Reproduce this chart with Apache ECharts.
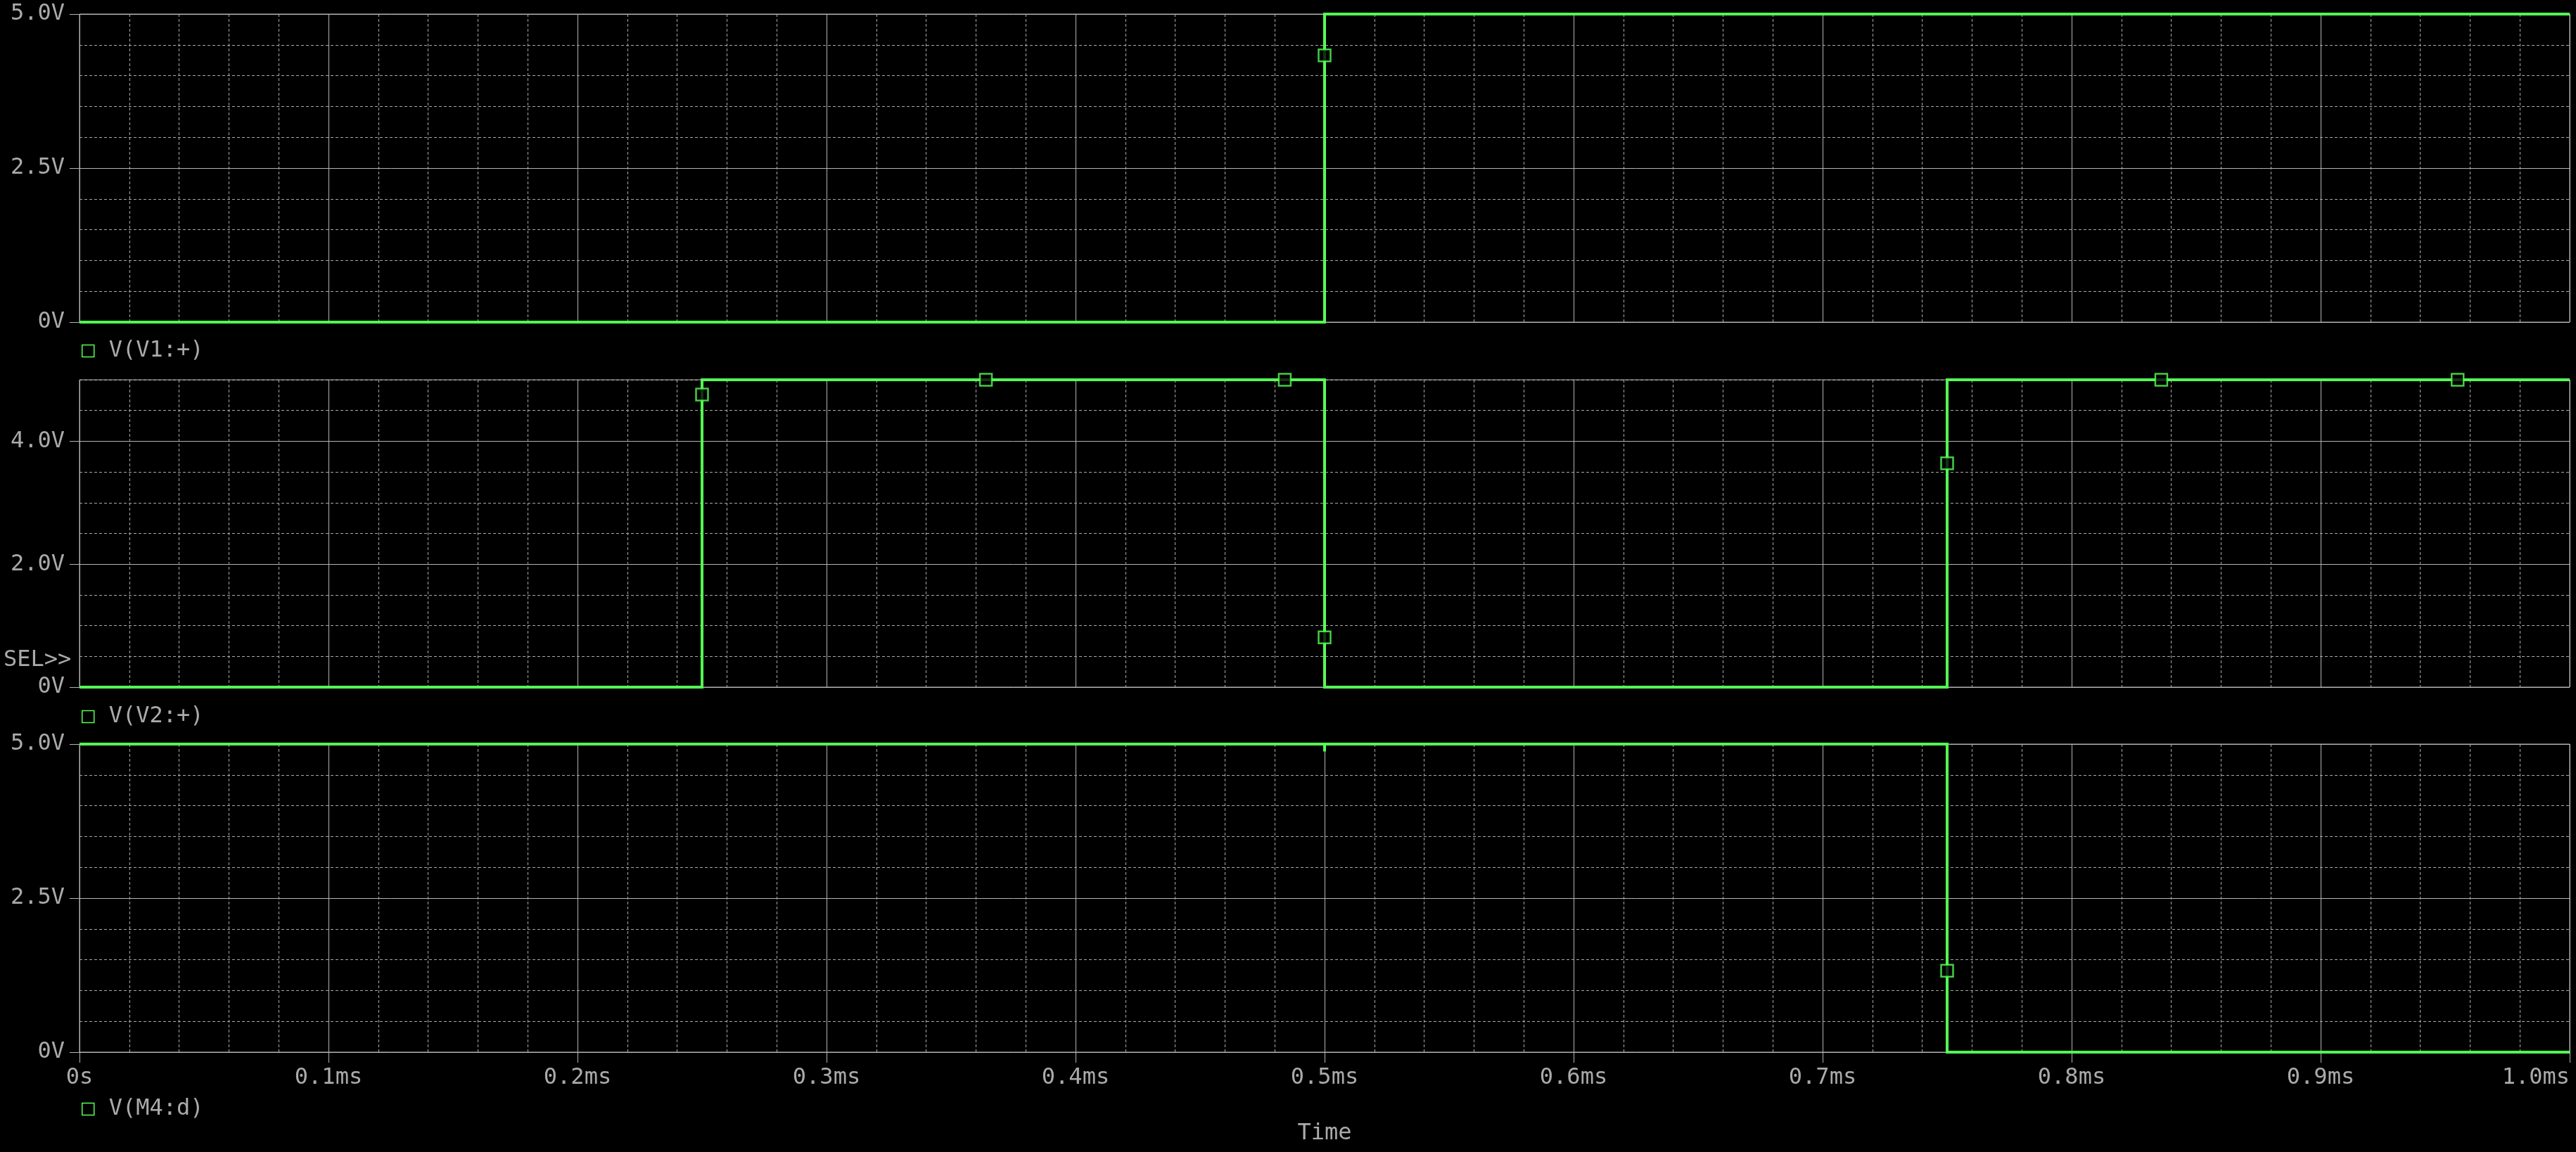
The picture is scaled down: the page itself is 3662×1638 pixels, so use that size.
<!DOCTYPE html>
<html>
<head>
<meta charset="utf-8">
<title>Transient traces</title>
<script src="https://cdn.jsdelivr.net/npm/echarts@6.0.0/dist/echarts.min.js"></script>
<style>
    html, body { margin: 0; padding: 0; background: #000; }
    #mychart { width: 3662px; height: 1638px; }
</style>
</head>
<body>
<div id="mychart"></div>
<script>
// time in ms, voltage in V (step waveforms: repeated time = vertical edge)
var timeV1 = [0, 0.5, 0.5, 1.0];
var voltV1 = [0, 0, 5, 5];

var timeV2 = [0, 0.25, 0.25, 0.5, 0.5, 0.75, 0.75, 1.0];
var voltV2 = [0, 0, 5, 5, 0, 0, 5, 5];

var timeM4 = [0, 0.5, 0.5, 0.5, 0.75, 0.75, 1.0];
var voltM4 = [5, 5, 4.88, 5, 5, 0, 0];

// trace marker squares
var markTimeV1 = [0.5];
var markVoltV1 = [4.33];
var markTimeV2 = [0.25, 0.364, 0.484, 0.5, 0.75, 0.836, 0.955];
var markVoltV2 = [4.76, 5, 5, 0.81, 3.64, 5, 5];
var markTimeM4 = [0.75];
var markVoltM4 = [1.32];

var traceNames = ['V(V1:+)', 'V(V2:+)', 'V(M4:d)'];
var timeTicks = [0, 0.1, 0.2, 0.3, 0.4, 0.5, 0.6, 0.7, 0.8, 0.9, 1.0];
var midLabels = [0, 2, 4];

var green = '#55ff55';
var solidGrid = '#b4b4b4';
var dashGrid = '#a8a8a8';
var textColor = '#aaaaaa';
var monoFont = 'DejaVu Sans Mono';

function pairs(xs, ys) {
    var out = [];
    for (var i = 0; i < xs.length; i++) {
        out.push([xs[i], ys[i]]);
    }
    return out;
}

function voltLabel(v) {
    return v === 0 ? '0V' : v.toFixed(1) + 'V';
}

function timeAxis(idx, bottom) {
    return {
        type: 'value',
        gridIndex: idx,
        min: timeTicks[0],
        max: timeTicks[timeTicks.length - 1],
        interval: 0.1,
        axisLine: {show: false},
        axisTick: {show: bottom, length: 15, lineStyle: {color: solidGrid}},
        axisLabel: {
            show: bottom,
            margin: 21,
            color: textColor,
            fontFamily: monoFont,
            fontSize: 32,
            alignMaxLabel: 'right',
            formatter: function (v) {
                return v === 0 ? '0s' : v.toFixed(1) + 'ms';
            }
        },
        splitLine: {show: true, lineStyle: {color: solidGrid, width: 1}},
        minorTick: {show: false, splitNumber: 5},
        minorSplitLine: {show: true, lineStyle: {color: dashGrid, width: 1, type: [4, 3]}},
        name: bottom ? 'Time' : '',
        nameLocation: 'middle',
        nameGap: 100,
        nameTextStyle: {color: textColor, fontFamily: monoFont, fontSize: 32}
    };
}

function voltAxis(idx) {
    return {
        type: 'value',
        gridIndex: idx,
        position: 'left',
        min: 0,
        max: 5,
        interval: 2.5,
        axisLine: {show: false},
        axisTick: {show: true, length: 14, lineStyle: {color: solidGrid}},
        axisLabel: {margin: 21, color: textColor, fontFamily: monoFont, fontSize: 32, formatter: voltLabel},
        splitLine: {show: true, lineStyle: {color: solidGrid, width: 1}},
        minorTick: {show: false, splitNumber: 5},
        minorSplitLine: {show: true, lineStyle: {color: dashGrid, width: 1, type: [4, 3]}}
    };
}

function traceLine(name, idx, yIdx, data) {
    return {
        name: name,
        type: 'line',
        xAxisIndex: idx,
        yAxisIndex: yIdx,
        data: data,
        showSymbol: false,
        animation: false,
        lineStyle: {color: green, width: 4, join: 'miter'},
        itemStyle: {color: green},
        z: 2
    };
}

function traceMarks(idx, yIdx, data) {
    return {
        type: 'scatter',
        xAxisIndex: idx,
        yAxisIndex: yIdx,
        data: data,
        symbol: 'rect',
        symbolSize: 17,
        animation: false,
        itemStyle: {color: '#000', borderColor: green, borderWidth: 2.5},
        z: 3
    };
}

function traceLegend(name, top) {
    return {
        data: [name],
        left: 116,
        top: top,
        padding: 0,
        icon: 'rect',
        itemWidth: 17,
        itemHeight: 17,
        selectedMode: false,
        itemStyle: {color: 'rgba(0,0,0,0)', borderColor: green, borderWidth: 1.5},
        textStyle: {color: textColor, fontFamily: monoFont, fontSize: 32, padding: [0, 0, 0, 16]}
    };
}

var middleMinor = {
    type: 'value',
    gridIndex: 1,
    position: 'left',
    min: 0,
    max: 5,
    interval: 0.5,
    axisLine: {show: false},
    axisTick: {show: false},
    axisLabel: {show: false},
    splitLine: {show: true, lineStyle: {color: dashGrid, width: 1, type: [4, 3]}}
};

var middleMajor = {
    type: 'value',
    gridIndex: 1,
    position: 'left',
    min: 0,
    max: 5,
    interval: 2,
    axisLine: {show: false},
    axisTick: {show: true, length: 14, customValues: midLabels, lineStyle: {color: solidGrid}},
    axisLabel: {
        margin: 21, color: textColor, fontFamily: monoFont, fontSize: 32,
        customValues: midLabels, formatter: voltLabel
    },
    splitLine: {show: true, lineStyle: {color: solidGrid, width: 1}}
};

var gridBox = {
    show: true,
    left: 113,
    right: 9,
    borderColor: solidGrid,
    borderWidth: 1,
    backgroundColor: 'rgba(0,0,0,0)',
    outerBoundsMode: 'none'
};

var option = {
    backgroundColor: '#000',
    animation: false,
    grid: [
        Object.assign({top: 20, height: 438}, gridBox),
        Object.assign({top: 540, height: 437}, gridBox),
        Object.assign({top: 1058, height: 438}, gridBox)
    ],
    xAxis: [timeAxis(0, false), timeAxis(1, false), timeAxis(2, true)],
    yAxis: [voltAxis(0), middleMinor, middleMajor, voltAxis(2)],
    legend: [
        traceLegend(traceNames[0], 483),
        traceLegend(traceNames[1], 1003),
        traceLegend(traceNames[2], 1561)
    ],
    graphic: [
        {
            type: 'text',
            left: 5,
            top: 923,
            style: {text: 'SEL>>', fill: textColor, font: '32px "DejaVu Sans Mono"'}
        }
    ],
    series: [
        traceLine(traceNames[0], 0, 0, pairs(timeV1, voltV1)),
        traceMarks(0, 0, pairs(markTimeV1, markVoltV1)),
        traceLine(traceNames[1], 1, 2, pairs(timeV2, voltV2)),
        traceMarks(1, 2, pairs(markTimeV2, markVoltV2)),
        traceLine(traceNames[2], 2, 3, pairs(timeM4, voltM4)),
        traceMarks(2, 3, pairs(markTimeM4, markVoltM4))
    ]
};

var mychart = echarts.init(document.getElementById('mychart'));
mychart.setOption(option);
</script>
</body>
</html>
